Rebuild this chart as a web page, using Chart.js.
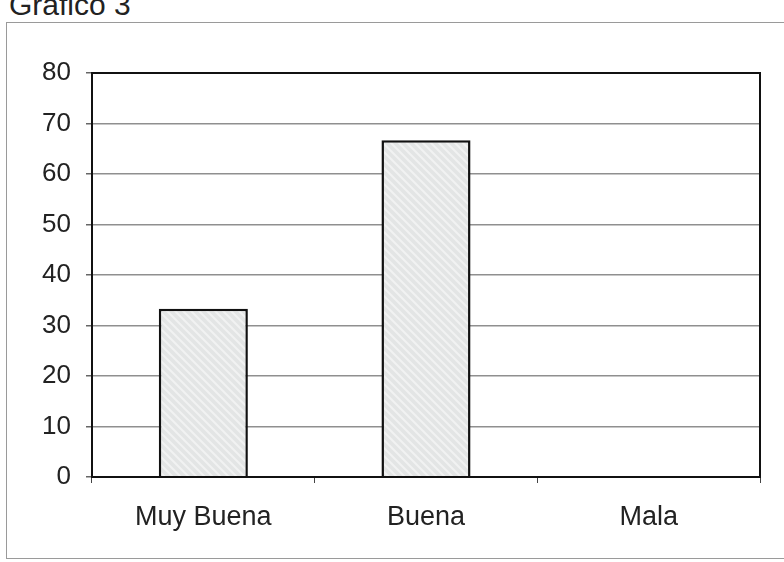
<!DOCTYPE html>
<html lang="es">
<head>
    <meta charset="UTF-8">
    <title>Gráfico 3</title>
    <script src="https://cdn.jsdelivr.net/npm/chart.js"></script>
    <style>
        body { margin: 0; background: #fff; font-family: "Liberation Sans", Arial, sans-serif; overflow: hidden; }
        #titulo { position: absolute; left: 9px; top: -10px; font-size: 30px; line-height: 30px; color: #222; }
        #marco { position: absolute; left: 6px; top: 22px; width: 800px; height: 535px; border: 1px solid #9a9a9a; }
        #caja { position: absolute; left: 0; top: 0; width: 784px; height: 562px; }
    </style>
</head>
<body>
    <div id="titulo">Gráfico 3</div>
    <div id="marco"></div>
    <div id="caja"><canvas id="grafico"></canvas></div>

    <script>
        // datos
        const categorias = ['Muy Buena', 'Buena', 'Mala'];
        const valores = [33.3, 66.7, 0];
        const ejeYMin = 0;
        const ejeYMax = 80;
        const ejeYPaso = 10;

        // relleno gris claro con rayado diagonal
        function crearTrama() {
            const c = document.createElement('canvas');
            c.width = 8; c.height = 8;
            const g = c.getContext('2d');
            g.fillStyle = '#e3e5e5';
            g.fillRect(0, 0, 8, 8);
            g.strokeStyle = '#f1f2f2';
            g.lineWidth = 2;
            g.beginPath();
            g.moveTo(0, 0); g.lineTo(8, 8);
            g.moveTo(-4, 4); g.lineTo(4, 12);
            g.moveTo(4, -4); g.lineTo(12, 4);
            g.stroke();
            return g.createPattern(c, 'repeat');
        }

        // marco negro alrededor del area de trazado
        const marcoArea = {
            id: 'marcoArea',
            afterDraw(chart) {
                const a = chart.chartArea;
                const ctx = chart.ctx;
                ctx.save();
                ctx.strokeStyle = '#111';
                ctx.lineWidth = 2;
                ctx.strokeRect(a.left, a.top, a.right - a.left, a.bottom - a.top);
                ctx.restore();
            }
        };

        const fuenteX = { family: '"Liberation Sans", Arial, sans-serif', size: 27 };
        const fuenteY = { family: '"Liberation Sans", Arial, sans-serif', size: 26 };

        new Chart(document.getElementById('grafico'), {
            type: 'bar',
            data: {
                labels: categorias,
                datasets: [{
                    data: valores,
                    backgroundColor: crearTrama(),
                    borderColor: '#111',
                    borderWidth: 2.5,
                    borderSkipped: 'bottom',
                    categoryPercentage: 1,
                    barPercentage: 0.4
                }]
            },
            options: {
                responsive: true,
                maintainAspectRatio: false,
                animation: false,
                layout: { padding: { top: 73, right: 24, left: 0, bottom: 0 } },
                plugins: { legend: { display: false }, tooltip: { enabled: false } },
                scales: {
                    x: {
                        afterFit(s) { s.height = 85; },
                        grid: { offset: true, drawOnChartArea: false, tickLength: 6, color: '#444', lineWidth: 1 },
                        border: { color: '#111', width: 2 },
                        ticks: { color: '#222', font: fuenteX, padding: 18 }
                    },
                    y: {
                        min: ejeYMin,
                        max: ejeYMax,
                        afterFit(s) { s.width = 92; },
                        grid: { color: '#8f8f8f', lineWidth: 1.5, tickLength: 6, tickColor: '#666' },
                        border: { color: '#111', width: 2 },
                        ticks: { stepSize: ejeYPaso, color: '#222', font: fuenteY, padding: 15 }
                    }
                }
            },
            plugins: [marcoArea]
        });
    </script>
</body>
</html>
